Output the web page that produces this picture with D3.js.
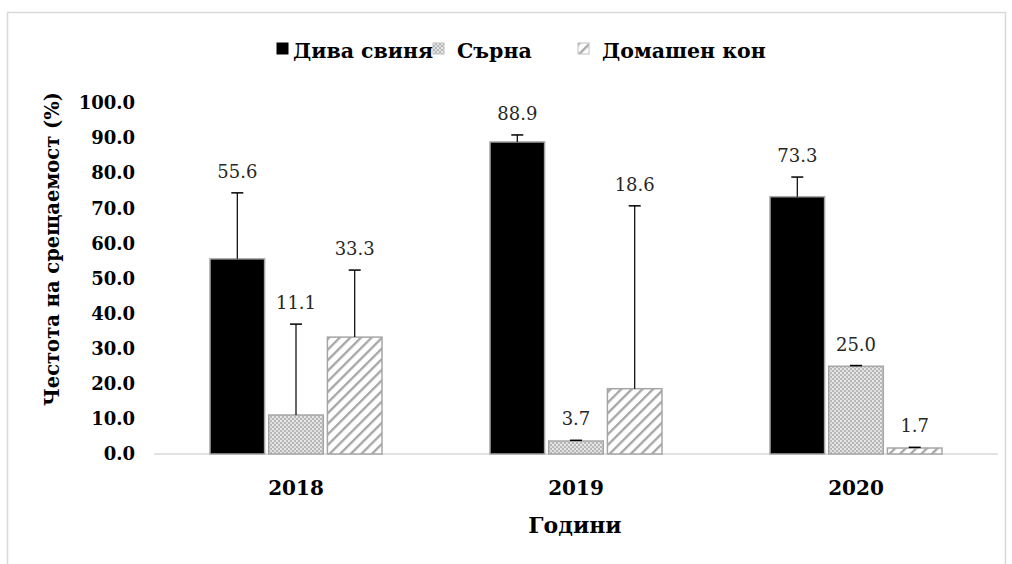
<!DOCTYPE html>
<html>
<head>
<meta charset="utf-8">
<script src="https://cdn.jsdelivr.net/npm/d3@7"></script>
<style>
  body { margin: 0; background: #fff; }
</style>
</head>
<body>
<div id="chart"></div>
<script>
// data
const years = ["2018", "2019", "2020"];
const seriesNames = ["Дива свиня", "Сърна", "Домашен кон"];
const boar = [55.6, 88.9, 73.3];
const roe = [11.1, 3.7, 25.0];
const horse = [33.3, 18.6, 1.7];
// error bar (upper part only)
const boarErr = [18.8, 2.0, 5.6];
const roeErr = [25.9, 0.2, 0.2];
const horseErr = [19.1, 52.1, 0.2];
const yTicks = [0, 10, 20, 30, 40, 50, 60, 70, 80, 90, 100];

const values = [boar, roe, horse];
const errors = [boarErr, roeErr, horseErr];

const FONT = "'DejaVu Serif', serif";

const width = 1012, height = 564;
const svg = d3.select("#chart").append("svg")
    .attr("width", width)
    .attr("height", height);

const defs = svg.append("defs");
// dotted gray pattern
const dots = defs.append("pattern")
    .attr("id", "dots")
    .attr("width", 4).attr("height", 4)
    .attr("patternUnits", "userSpaceOnUse");
dots.append("rect").attr("width", 4).attr("height", 4).attr("fill", "#b8b8b8");
dots.append("circle").attr("cx", 1).attr("cy", 1).attr("r", 0.9).attr("fill", "#fff");
dots.append("circle").attr("cx", 3).attr("cy", 3).attr("r", 0.9).attr("fill", "#f2f2f2");
// diagonal hatch
const hatch = defs.append("pattern")
    .attr("id", "hatch")
    .attr("width", 7.5).attr("height", 7.5)
    .attr("patternUnits", "userSpaceOnUse")
    .attr("patternTransform", "rotate(45)");
hatch.append("rect").attr("width", 7.5).attr("height", 7.5).attr("fill", "#fff");
hatch.append("rect").attr("x", 0).attr("width", 2.3).attr("height", 7.5).attr("fill", "#a6a6a6");

const fills = ["#000", "url(#dots)", "url(#hatch)"];

// outer frame
svg.append("path")
    .attr("d", "M7.5,570 V12.5 H1005.5 V570")
    .attr("fill", "none")
    .attr("stroke", "#d9d9d9")
    .attr("stroke-width", 1.5);

const x0 = d3.scaleBand().domain(years).range([156, 996]);
const x1 = d3.scaleBand().domain(seriesNames).range([54, 226]).paddingInner(0.07);
const y = d3.scaleLinear().domain([0, 100]).range([454, 103]);

// y axis labels
const yAxis = svg.append("g")
    .attr("transform", "translate(139,0)")
    .call(d3.axisLeft(y).tickValues(yTicks).tickSize(0).tickPadding(4).tickFormat(d3.format(".1f")));
yAxis.select(".domain").remove();
yAxis.selectAll("text")
    .style("font-family", FONT)
    .attr("font-weight", "bold")
    .attr("font-size", 18)
    .attr("fill", "#000");

// baseline
svg.append("line")
    .attr("x1", 154).attr("x2", 998)
    .attr("y1", y(0)).attr("y2", y(0))
    .attr("stroke", "#d9d9d9")
    .attr("stroke-width", 1.5);

const groups = svg.selectAll(".year")
    .data(years)
    .enter().append("g")
    .attr("class", "year")
    .attr("transform", d => "translate(" + x0(d) + ",0)");

seriesNames.forEach((s, si) => {
    groups.append("rect")
        .attr("x", x1(s))
        .attr("y", (d, i) => y(values[si][i]))
        .attr("width", x1.bandwidth())
        .attr("height", (d, i) => y(0) - y(values[si][i]))
        .attr("fill", fills[si])
        .attr("stroke", "#a6a6a6")
        .attr("stroke-width", 1.5);

    const cx = x1(s) + x1.bandwidth() / 2;
    groups.append("line")
        .attr("x1", cx).attr("x2", cx)
        .attr("y1", (d, i) => y(values[si][i]))
        .attr("y2", (d, i) => y(values[si][i] + errors[si][i]))
        .attr("stroke", "#000")
        .attr("stroke-width", 1.2);
    groups.append("line")
        .attr("x1", cx - 6).attr("x2", cx + 6)
        .attr("y1", (d, i) => y(values[si][i] + errors[si][i]))
        .attr("y2", (d, i) => y(values[si][i] + errors[si][i]))
        .attr("stroke", "#000")
        .attr("stroke-width", 1.5);

    groups.append("text")
        .attr("x", cx)
        .attr("y", (d, i) => y(values[si][i] + errors[si][i]) - 15)
        .attr("text-anchor", "middle")
        .style("font-family", FONT)
        .attr("font-size", 18)
        .attr("fill", "#262626")
        .text((d, i) => values[si][i].toFixed(1));
});

// x labels
svg.selectAll(".xlab")
    .data(years)
    .enter().append("text")
    .attr("class", "xlab")
    .attr("x", d => x0(d) + x0.bandwidth() / 2)
    .attr("y", 495)
    .attr("text-anchor", "middle")
    .style("font-family", FONT)
    .attr("font-weight", "bold")
    .attr("font-size", 20)
    .text(d => d);

svg.append("text")
    .attr("x", 575).attr("y", 533)
    .attr("text-anchor", "middle")
    .style("font-family", FONT)
    .attr("font-weight", "bold")
    .attr("font-size", 22)
    .text("Години");

svg.append("text")
    .attr("transform", "translate(59,249) rotate(-90)")
    .attr("text-anchor", "middle")
    .style("font-family", FONT)
    .attr("font-weight", "bold")
    .attr("font-size", 19.5)
    .text("Честота на срещаемост (%)");

// legend
const legendX = [277, 433, 578];
const legend = svg.selectAll(".leg")
    .data(seriesNames)
    .enter().append("g")
    .attr("class", "leg")
    .attr("transform", (d, i) => "translate(" + legendX[i] + ",43)");
legend.append("rect")
    .attr("width", 11).attr("height", 11)
    .attr("fill", (d, i) => fills[i])
    .attr("stroke", (d, i) => i == 0 ? "#000" : "#bfbfbf")
    .attr("stroke-width", 1);
legend.append("text")
    .attr("x", (d, i) => i == 0 ? 16 : 24)
    .attr("y", 15)
    .style("font-family", FONT)
    .attr("font-weight", "bold")
    .attr("font-size", 20.5)
    .text(d => d);
</script>
</body>
</html>
